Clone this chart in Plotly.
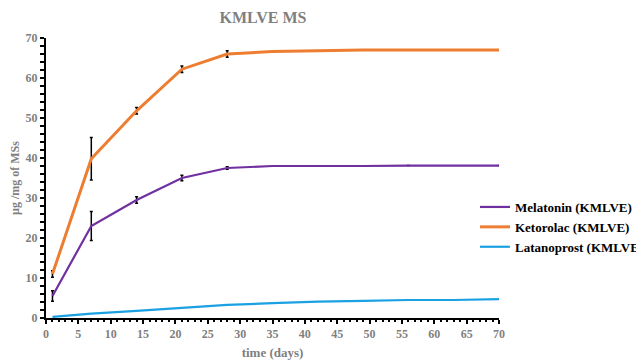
import plotly.graph_objects as go

days_k = [1, 7, 14, 21, 28, 35, 49, 70]
ketorolac = [11.0, 39.8, 51.8, 62.2, 66.0, 66.6, 67.0, 67.0]
ketorolac_err = [0.8, 5.3, 0.8, 0.8, 0.8, 0, 0, 0]

days_m = [1, 7, 14, 21, 28, 35, 49, 56, 70]
melatonin = [5.5, 23.0, 29.5, 35.0, 37.5, 38.0, 38.0, 38.1, 38.1]
melatonin_err = [1.3, 3.6, 0.8, 0.7, 0.3, 0, 0, 0, 0]

days_l = [1, 7, 14, 21, 28, 35, 42, 49, 56, 63, 70]
latanoprost = [0.3, 1.1, 1.8, 2.5, 3.3, 3.7, 4.1, 4.3, 4.5, 4.5, 4.7]

SERIF = "Liberation Serif"

fig = go.Figure()
fig.add_trace(go.Scatter(
    x=days_m, y=melatonin, name="Melatonin (KMLVE)", mode="lines",
    line=dict(color="#7030A0", width=2.2),
    error_y=dict(type="data", array=melatonin_err, color="black", thickness=1.5, width=1.5)))
fig.add_trace(go.Scatter(
    x=days_k, y=ketorolac, name="Ketorolac (KMLVE)", mode="lines",
    line=dict(color="#ED7D31", width=3),
    error_y=dict(type="data", array=ketorolac_err, color="black", thickness=1.5, width=1.5)))
fig.add_trace(go.Scatter(
    x=days_l, y=latanoprost, name="Latanoprost (KMLVE)", mode="lines",
    line=dict(color="#1BA1E2", width=2.2)))

# the page body has an 8px margin, so the figure is 8px smaller and margins compensate
fig.update_layout(
    width=636, height=352,
    margin=dict(l=38, r=145, t=30, b=42, autoexpand=False),
    paper_bgcolor="white", plot_bgcolor="white",
    title=dict(text="KMLVE MS", x=0.401, xanchor="center", y=0.972, yanchor="middle",
               xref="container",
               font=dict(family=SERIF, weight="bold", size=16, color="#7f7f7f")),
    legend=dict(x=0.947, y=0.45, xanchor="left", yanchor="top",
                font=dict(family=SERIF, size=13, color="black", weight="bold"),
                bgcolor="rgba(0,0,0,0)", tracegroupgap=0, itemwidth=30),
    xaxis=dict(range=[0, 70], dtick=5, tick0=0, showgrid=False, zeroline=False,
               showline=True, linecolor="black", linewidth=2, automargin=False,
               ticks="outside", ticklen=4, tickwidth=2, tickcolor="black",
               minor=dict(dtick=1, ticks="outside", ticklen=2, tickwidth=1.5, tickcolor="black"),
               tickfont=dict(family=SERIF, size=12, color="#7f7f7f", weight="bold"),
               title=dict(text="time (days)", standoff=8,
                          font=dict(family=SERIF, size=13, color="#7f7f7f", weight="bold"))),
    yaxis=dict(range=[0, 70], dtick=10, tick0=0, showgrid=False, zeroline=False,
               showline=True, linecolor="black", linewidth=2, automargin=False,
               ticks="outside", ticklen=4, tickwidth=2, tickcolor="black",
               minor=dict(dtick=2, ticks="outside", ticklen=4, tickwidth=2, tickcolor="black"),
               tickfont=dict(family=SERIF, size=12, color="#7f7f7f", weight="bold"),
               title=dict(text="µg /mg of MSs", standoff=6,
                          font=dict(family=SERIF, size=12, color="#7f7f7f", weight="bold"))),
)

fig.write_html("out.html")
